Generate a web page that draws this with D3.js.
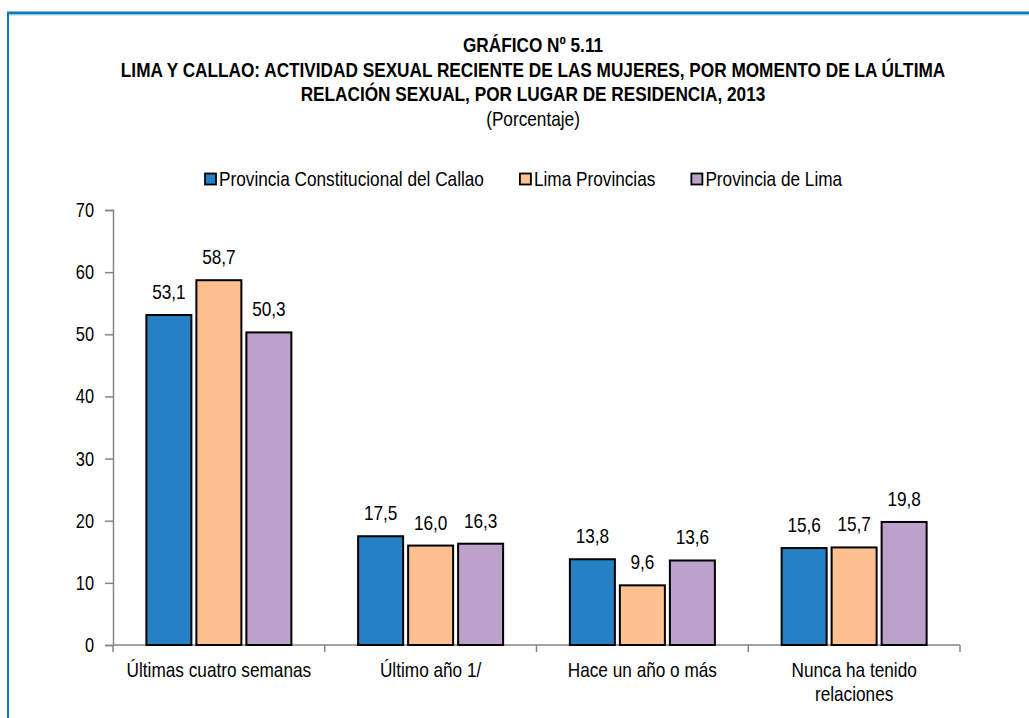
<!DOCTYPE html>
<html><head><meta charset="utf-8">
<script src="https://cdn.jsdelivr.net/npm/d3@7"></script>
<style>
body{margin:0;background:#fff;}
svg{display:block;font-family:"Liberation Sans",Arial,sans-serif;}
</style></head>
<body>
<svg id="c" width="1029" height="718"></svg>
<script>
const categories = ["Últimas cuatro semanas", "Último año 1/", "Hace un año o más", "Nunca ha tenido relaciones"];
const seriesNames = ["Provincia Constitucional del Callao", "Lima Provincias", "Provincia de Lima"];
const callao = [53.1, 17.5, 13.8, 15.6];
const limaProv = [58.7, 16.0, 9.6, 15.7];
const provLima = [50.3, 16.3, 13.6, 19.8];
const colors = ["#2581C4", "#FFC08F", "#BCA2CA"];
const yTicks = [0, 10, 20, 30, 40, 50, 60, 70];
const titleLines = ["GRÁFICO Nº 5.11",
  "LIMA Y CALLAO: ACTIVIDAD SEXUAL RECIENTE DE LAS MUJERES, POR MOMENTO DE LA ÚLTIMA",
  "RELACIÓN SEXUAL, POR LUGAR DE RESIDENCIA, 2013"];
const subtitle = "(Porcentaje)";

const series = [callao, limaProv, provLima];
const svg = d3.select("#c");
const NARROW = 0.82;

// narrow text helper (Arial Narrow metrics = Arial * 0.82)
function ntext(parent, x, y, str, size, anchor, bold) {
  return parent.append("text")
    .attr("transform", `translate(${x},${y}) scale(${NARROW},1)`)
    .attr("text-anchor", anchor || "start")
    .attr("font-size", size)
    .attr("font-weight", bold ? "bold" : "normal")
    .attr("fill", "#000")
    .text(str);
}

// frame
svg.append("line").attr("x1",7).attr("x2",1029).attr("y1",13).attr("y2",13).attr("stroke","#0A7AB8").attr("stroke-width",3);
svg.append("line").attr("x1",9).attr("x2",1029).attr("y1",15).attr("y2",15).attr("stroke","#A9D2EA").attr("stroke-width",1);
svg.append("line").attr("x1",8).attr("x2",8).attr("y1",12).attr("y2",718).attr("stroke","#0A7AB8").attr("stroke-width",2);

// titles
const cx = 533;
const titleY = [52, 77, 101];
titleLines.forEach((t,i)=> ntext(svg, cx, titleY[i], t, 21, "middle", true));
ntext(svg, cx, 126, subtitle, 21, "middle", false);

// scales
const x0 = d3.scaleBand().domain(categories).range([113, 960]);
const y = d3.scaleLinear().domain([0,70]).range([645,210]);
const groupW = 145;
const x1 = d3.scaleBand().domain(d3.range(3)).range([0, groupW]).paddingInner(0.1);

// y axis
const yAxis = svg.append("g").attr("transform","translate(113,0)")
 .call(d3.axisLeft(y).tickValues(yTicks).tickSize(8).tickFormat(""));
yAxis.select(".domain").attr("stroke","#868686").attr("stroke-width",1.5);
yAxis.selectAll(".tick line").attr("stroke","#868686").attr("stroke-width",1.5);
yTicks.forEach(v => ntext(svg, 94, y(v)+7, d3.format("d")(v), 20, "end"));

// x axis
const xAxisG = svg.append("g");
xAxisG.append("line").attr("x1",113).attr("x2",960).attr("y1",y(0)).attr("y2",y(0)).attr("stroke","#868686").attr("stroke-width",1.5);
const bounds = categories.map(c=>x0(c)).concat([x0.range()[1]]);
xAxisG.selectAll("line.t").data(bounds).enter().append("line")
 .attr("x1",d=>d).attr("x2",d=>d).attr("y1",y(0)).attr("y2",y(0)+7).attr("stroke","#868686").attr("stroke-width",1.5);

// bars
categories.forEach((c,ci)=>{
  const g = svg.append("g").attr("transform",`translate(${x0(c)+x0.bandwidth()/2-groupW/2},0)`);
  series.forEach((s,si)=>{
    g.append("rect").attr("x",x1(si)).attr("width",x1.bandwidth())
     .attr("y",y(s[ci])).attr("height",y(0)-y(s[ci]))
     .attr("fill",colors[si]).attr("stroke","#000").attr("stroke-width",2);
    ntext(g, x1(si)+x1.bandwidth()/2, y(s[ci])-16, d3.format(".1f")(s[ci]).replace(".",","), 21, "middle");
  });
});

// category labels
const catLines = {"Nunca ha tenido relaciones":["Nunca ha tenido","relaciones"]};
categories.forEach(c=>{
  const lines = catLines[c] || [c];
  lines.forEach((l,i)=> ntext(svg, x0(c)+x0.bandwidth()/2, 677 + i*24, l, 21, "middle"));
});

// legend
let lx = 205;
seriesNames.forEach((n,i)=>{
  svg.append("rect").attr("x",lx).attr("y",173.5).attr("width",11).attr("height",11)
   .attr("fill",colors[i]).attr("stroke","#000").attr("stroke-width",1.8);
  const t = ntext(svg, lx+14, 186, n, 21, "start");
  const w = t.node().getComputedTextLength()*NARROW;
  lx = lx + 14 + w + 36;
});
</script>
</body></html>
